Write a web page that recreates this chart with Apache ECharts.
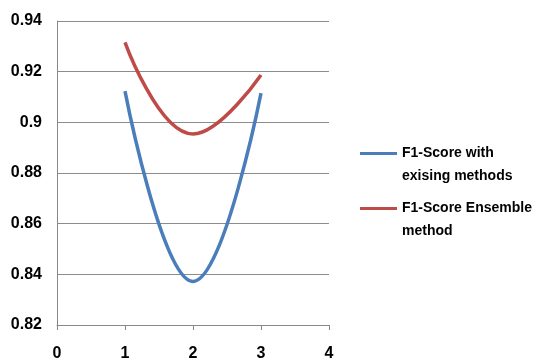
<!DOCTYPE html>
<html>
<head>
<meta charset="utf-8">
<script src="https://cdn.jsdelivr.net/npm/echarts@6/dist/echarts.min.js"></script>
<style>
  html, body { margin: 0; padding: 0; background: #fff; }
  #chart { width: 540px; height: 360px; }
</style>
</head>
<body>
<div id="chart"></div>
<script>
// Runs (x positions) and F1 scores for each approach
const runs = [1, 2, 3];
const existingF1 = [0.9123, 0.8372, 0.9115];
const ensembleF1 = [0.9316, 0.8954, 0.9187];
const seriesNames = ['F1-Score with\nexising methods', 'F1-Score Ensemble\nmethod'];
const seriesColors = ['#4a7ebb', '#be4b48'];

const pairs = (xs, ys) => xs.map((x, i) => [x, ys[i]]);
const FONT = '"Liberation Sans", Arial, sans-serif';
const labelFont = { fontFamily: FONT, fontWeight: 'bold', fontSize: 16, color: '#000' };

// one legend block per series; a blank leading row keeps the swatch level with the first text row
const legendFor = (name, top) => ({
  orient: 'vertical',
  left: 355, top: top,
  itemWidth: 37, itemHeight: 3,
  itemGap: 0,
  icon: 'rect',
  formatter: n => ' \n' + n,
  textStyle: { fontFamily: FONT, fontWeight: 'bold', fontSize: 14, color: '#000', lineHeight: 23 },
  data: [name]
});

const chart = echarts.init(document.getElementById('chart'));
chart.setOption({
  animation: false,
  backgroundColor: '#fff',
  grid: { left: 57, right: 211, top: 21, bottom: 35, outerBoundsMode: 'none', containLabel: false },
  xAxis: {
    type: 'value', min: 0, max: 4, interval: 1,
    axisLine: { lineStyle: { color: '#888', width: 1 } },
    axisTick: { show: true, length: 5, lineStyle: { color: '#888' } },
    splitLine: { show: false },
    axisLabel: Object.assign({ margin: 21 }, labelFont)
  },
  yAxis: {
    type: 'value', min: 0.82, max: 0.94, interval: 0.02,
    axisLine: { show: true, lineStyle: { color: '#888', width: 1 } },
    axisTick: { show: false },
    splitLine: { lineStyle: { color: '#8c8c8c', width: 1 } },
    axisLabel: Object.assign({ margin: 15, formatter: v => String(+v.toFixed(2)) }, labelFont)
  },
  legend: [legendFor(seriesNames[0], 114), legendFor(seriesNames[1], 169)],
  series: [
    {
      name: seriesNames[0], type: 'line', smooth: 0.45,
      data: pairs(runs, existingF1),
      symbol: 'none',
      lineStyle: { color: seriesColors[0], width: 3.5 },
      itemStyle: { color: seriesColors[0] }
    },
    {
      name: seriesNames[1], type: 'line', smooth: 0.45,
      data: pairs(runs, ensembleF1),
      symbol: 'none',
      lineStyle: { color: seriesColors[1], width: 3.5 },
      itemStyle: { color: seriesColors[1] }
    }
  ]
});
</script>
</body>
</html>
